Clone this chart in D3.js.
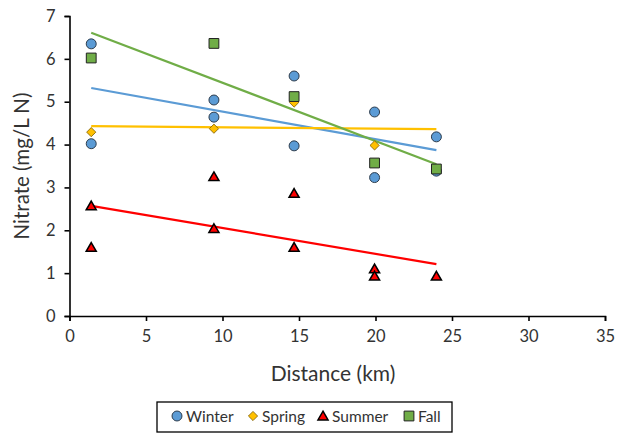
<!DOCTYPE html>
<html><head><meta charset="utf-8">
<script src="https://cdn.jsdelivr.net/npm/d3@7"></script>
<style>body{margin:0;background:#fff;} svg{display:block;font-family:Lato,"Open Sans",sans-serif;}</style>
</head><body><svg id="c" width="618" height="436"></svg>
<script>
const seriesNames = ["Winter","Spring","Summer","Fall"];
const seriesColors = ["#5B9BD5","#FFC000","#FF0000","#70AD47"];
const seriesShapes = ["circle","diamond","triangle","square"];
const winterX = [1.42,1.42,9.44,9.44,14.68,14.68,19.94,19.94,23.98,23.98];
const winterY = [6.35,4.02,5.04,4.64,5.60,3.97,4.76,3.23,4.18,3.38];
const springX = [1.42,9.44,14.68,19.94];
const springY = [4.29,4.37,4.98,3.98];
const summerX = [1.42,1.42,9.44,9.44,14.68,14.68,19.94,19.94,23.98];
const summerY = [2.57,1.60,3.25,2.04,2.86,1.60,1.10,0.93,0.93];
const fallX = [1.42,9.44,14.68,19.94,23.98];
const fallY = [6.02,6.36,5.12,3.57,3.43];
// trendline values at x = 1.42 and x = 23.98
const trendX = [1.42,23.98];
const trendStart = [5.32,4.43,2.57,6.61];
const trendEnd = [3.87,4.36,1.21,3.54];
const xTicks = [0,5,10,15,20,25,30,35];
const yTicks = [0,1,2,3,4,5,6,7];

const seriesX = [winterX,springX,summerX,fallX];
const seriesY = [winterY,springY,summerY,fallY];

const svg = d3.select("#c");
const x = d3.scaleLinear().domain([0,35]).range([69.5,605]);
const y = d3.scaleLinear().domain([0,7]).range([316,16]);
const fmt = d3.format("d");

const xAxis = svg.append("g").attr("transform","translate(0,316)")
  .call(d3.axisBottom(x).tickValues(xTicks).tickFormat(fmt).tickSize(5).tickPadding(9));
const yAxis = svg.append("g").attr("transform","translate(69.5,0)")
  .call(d3.axisLeft(y).tickValues(yTicks).tickFormat(fmt).tickSize(5).tickPadding(9));
[xAxis,yAxis].forEach(a=>{
  a.selectAll("path,line").attr("stroke","#000").attr("stroke-width",1.6);
  a.selectAll("text").attr("fill","#333").style("font-size","16.5px").style("font-family","Lato,sans-serif");
});

svg.append("text").attr("x",333).attr("y",381).attr("text-anchor","middle")
  .attr("fill","#333").style("font-size","21px").text("Distance (km)");
svg.append("text").attr("transform","translate(29,166) rotate(-90)").attr("text-anchor","middle")
  .attr("fill","#333").style("font-size","20.5px").text("Nitrate (mg/L N)");

function sym(shape){
  if(shape==="diamond") return "M0,-4.6L4.6,0L0,4.6L-4.6,0Z";
  const m = {circle:[d3.symbolCircle,78],triangle:[d3.symbolTriangle,44],square:[d3.symbolSquare,96]}[shape];
  return d3.symbol().type(m[0]).size(m[1])();
}
const strokeW = {circle:1,diamond:0.8,triangle:1.5,square:1};
const strokeC = {circle:"#2e3d4d",diamond:"#7a5a00",triangle:"#000",square:"#222"};

// trendlines
seriesNames.forEach((n,i)=>{
  svg.append("line")
    .attr("x1",x(trendX[0])).attr("y1",y(trendStart[i]))
    .attr("x2",x(trendX[1])).attr("y2",y(trendEnd[i]))
    .attr("stroke",seriesColors[i]).attr("stroke-width",2.2);
});
// points, in series order
seriesNames.forEach((n,i)=>{
  const s = seriesShapes[i];
  svg.append("g").selectAll("path").data(seriesX[i].map((v,j)=>[v,seriesY[i][j]]))
    .join("path").attr("d",sym(s))
    .attr("transform",d=>`translate(${x(d[0])},${y(d[1]) + (s==="triangle"?1:0)})`)
    .attr("fill",seriesColors[i]).attr("stroke",strokeC[s]).attr("stroke-width",strokeW[s]);
});

// legend
svg.append("rect").attr("x",157).attr("y",402).attr("width",295).attr("height",30)
  .attr("fill","#fff").attr("stroke","#000").attr("stroke-width",1.3);
const legX = [177,253,323,409];
seriesNames.forEach((n,i)=>{
  const s = seriesShapes[i];
  svg.append("path").attr("d",sym(s)).attr("transform",`translate(${legX[i]},${416+(s==="triangle"?1:0)})`)
    .attr("fill",seriesColors[i]).attr("stroke",strokeC[s]).attr("stroke-width",strokeW[s]);
  svg.append("text").attr("x",legX[i]+9).attr("y",421.5).attr("fill","#333")
    .style("font-size","15.5px").text(n);
});
</script></body></html>
